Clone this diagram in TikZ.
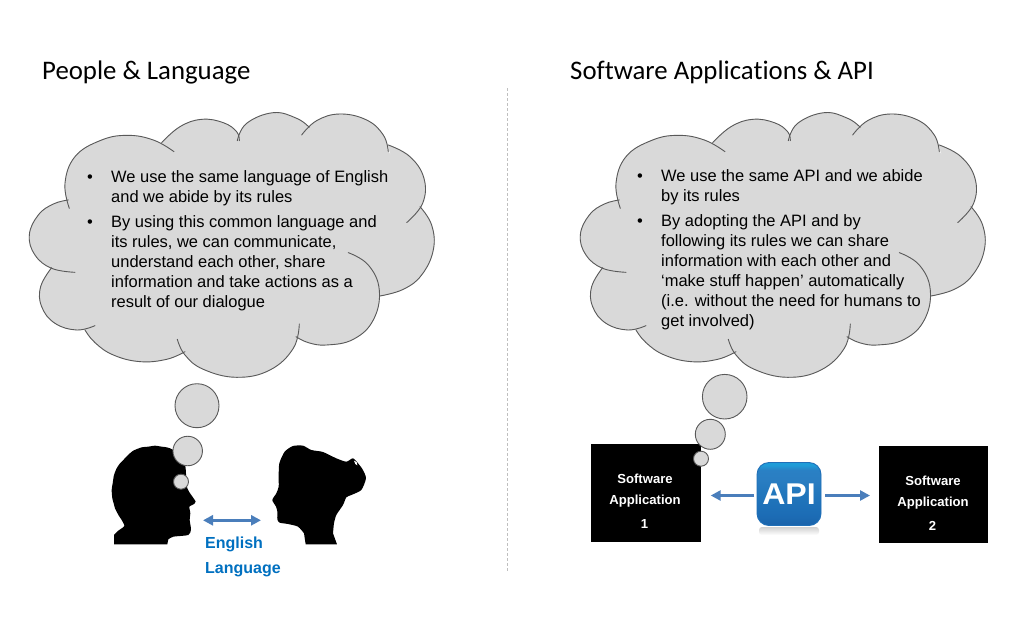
\documentclass[tikz,border=0pt]{standalone}
\usepackage{fontspec}
\setmainfont{Liberation Sans}
\newfontfamily\titlefont[Ligatures=NoCommon]{Carlito}
\definecolor{cloudfill}{HTML}{D9D9D9}
\definecolor{cloudline}{HTML}{595959}
\definecolor{arrowblue}{HTML}{4A7EBB}
\definecolor{langblue}{HTML}{0070C0}
\definecolor{dashgray}{HTML}{BFBFBF}
\definecolor{apiedge}{HTML}{1F6FB8}
\definecolor{apiA}{HTML}{1B64AA}
\definecolor{apiB}{HTML}{1B66AE}
\definecolor{apiC}{HTML}{1C6CB5}
\definecolor{apiD}{HTML}{2176BC}
\definecolor{apiE}{HTML}{2A7EC2}
\definecolor{apiF}{HTML}{2A80C4}
\definecolor{apiG}{HTML}{1E9CD8}
\usetikzlibrary{arrows.meta}
\pgfdeclareverticalshading{apishade}{100bp}{
  color(0bp)=(apiA);
  color(25bp)=(apiA);
  color(28bp)=(apiB);
  color(33bp)=(apiC);
  color(50bp)=(apiD);
  color(62bp)=(apiE);
  color(69bp)=(apiF);
  color(73bp)=(apiG);
  color(100bp)=(apiG)}
\tikzset{
  titletext/.style={anchor=west,inner sep=0pt,font=\titlefont\fontsize{26.8}{28}\selectfont},
  bodytext/.style={anchor=base west,inner sep=0pt,font=\fontsize{16.47}{18}\selectfont,text=black},
  apptext/.style={anchor=center,inner sep=0pt,text=white,font=\fontsize{13.1}{14}\selectfont\bfseries},
  langtext/.style={anchor=west,inner sep=0pt,text=langblue,font=\fontsize{16}{18}\selectfont\bfseries},
  bubble/.style={circle,draw=cloudline,fill=cloudfill,line width=0.9pt,inner sep=0pt,minimum size=#1},
  lobe/.style={draw=cloudline,line width=0.9pt,line cap=round},
  lobebody/.style={fill=cloudfill,draw=cloudfill,line width=0.6pt},
  blockarrow/.style={draw=arrowblue,line width=2.8pt,-{Triangle[length=10pt,width=10pt]}},
  sqbox/.style={fill=black,draw=none,inner sep=0pt},
}
\newcommand{\lobeA}{(148,325) (135,250) (165,170) (240,122) (320,106) (400,120) (462,155)}
\newcommand{\lobeB}{(425,128) (480,80) (545,58) (610,68) (650,95) (658,122)}
\newcommand{\lobeC}{(652,122) (680,70) (760,38) (830,55) (868,82)}
\newcommand{\lobeD}{(845,105) (890,62) (960,42) (1040,60) (1090,105) (1105,155)}
\newcommand{\lobeE}{(1105,135) (1170,170) (1212,235) (1208,310) (1160,368)}
\newcommand{\lobeF}{(1200,320) (1235,375) (1240,450) (1205,525) (1150,568) (1080,588)}
\newcommand{\lobeG}{(985,458) (1045,495) (1078,570) (1060,660) (1000,718) (920,735) (865,728) (828,710)}
\newcommand{\lobeH}{(838,672) (820,745) (750,810) (650,832) (550,808) (495,765) (472,718)}
\newcommand{\lobeI}{(495,755) (440,778) (360,785) (280,765) (225,728) (195,690)}
\newcommand{\lobeJ}{(225,677) (170,690) (105,670) (65,620) (62,560) (95,503)}
\newcommand{\lobeK}{(165,517) (95,505) (45,465) (28,405) (55,345) (100,312) (145,300)}
\newcommand{\lobefillx}[1]{\path[lobebody] plot[smooth,tension=0.7] coordinates {#1} -- cycle;}
\newcommand{\lobedrawx}[1]{\draw[lobe] plot[smooth,tension=0.7] coordinates {#1};}
\newcommand{\lobefill}[1]{\expandafter\lobefillx\expandafter{#1}}
\newcommand{\lobedraw}[1]{\expandafter\lobedrawx\expandafter{#1}}
\newcommand{\cloudAt}[2]{%
  \begin{scope}[shift={(#1,#2)},x=0.3333pt,y=-0.3333pt]
    \path[lobebody] (148,325) -- (425,128) -- (652,122) -- (868,82) -- (1105,155) -- (1200,320) -- (1080,588) -- (828,710) -- (472,760) -- (195,690) -- (95,503) -- cycle;
    \lobefill\lobeA \lobefill\lobeB \lobefill\lobeC \lobefill\lobeD \lobefill\lobeE \lobefill\lobeF
    \lobefill\lobeG \lobefill\lobeH \lobefill\lobeI \lobefill\lobeJ \lobefill\lobeK
    \lobedraw\lobeA \lobedraw\lobeB \lobedraw\lobeC \lobedraw\lobeD \lobedraw\lobeE \lobedraw\lobeF
    \lobedraw\lobeG \lobedraw\lobeH \lobedraw\lobeI \lobedraw\lobeJ \lobedraw\lobeK
  \end{scope}}
\begin{document}
\begin{tikzpicture}[x=1pt,y=-1pt]
\useasboundingbox[fill=white] (0,0) rectangle (1023,627);

\node[titletext] (t1) at (42,72) {People \& Language};
\node[titletext] (t2) at (570,72) {Software Applications \& API};

\coordinate (divtop) at (507.5,88);
\coordinate (divbot) at (507.5,571);
\draw[dashgray,line width=0.7pt,dash pattern=on 3pt off 2pt] (divtop) -- (divbot);

\cloudAt{20}{100}
\cloudAt{571}{100}

% left text
\node[bodytext] at (87,182) {•};
\node[bodytext] at (111,182) {We use the same language of English};
\node[bodytext] at (111,202) {and we abide by its rules};
\node[bodytext] at (87,227) {•};
\node[bodytext] at (111,227) {By using this common language and};
\node[bodytext] at (111,247) {its rules, we can communicate,};
\node[bodytext] at (111,267) {understand each other, share};
\node[bodytext] at (111,287) {information and take actions as a};
\node[bodytext] at (111,307) {result of our dialogue};

% right text
\node[bodytext] at (637,181) {•};
\node[bodytext] at (661,181) {We use the same API and we abide};
\node[bodytext] at (661,201) {by its rules};
\node[bodytext] at (637,226) {•};
\node[bodytext] at (661,226) {By adopting the API and by};
\node[bodytext] at (661,246) {following its rules we can share};
\node[bodytext] at (661,266) {information with each other and};
\node[bodytext] at (661,286) {‘make stuff happen’ automatically};
\node[bodytext] at (661,306) {(i.e. without the need for humans to};
\node[bodytext] at (661,326) {get involved)};

% man
\begin{scope}[shift={(105,440)},x=0.3333pt,y=-0.3333pt]
  \fill[black] plot[smooth,tension=0.4] coordinates {(27,285) (40,272) (58,258) (50,240) (42,228) (35,215) (30,205) (26,190) (22,175) (20,150) (23,130) (27,105) (35,85) (45,70) (55,60) (68,46) (85,32) (110,22) (130,20) (150,17) (170,20) (185,22) (205,30) (225,60) (240,75) (243,100) (244,135) (252,155) (272,185) (262,195) (253,200) (256,220) (254,240) (258,268) (250,285) (205,290) (190,298)} -- (187,313) -- (27,313) -- cycle;
\end{scope}
% woman
\begin{scope}[shift={(268,440)},x=0.3333pt,y=-0.3333pt]
  \fill[black] plot[smooth,tension=0.4] coordinates {(108,280) (90,260) (60,252) (35,248) (28,238) (28,215) (24,200) (13,180) (25,160) (32,140) (32,110) (34,70) (50,35) (75,18) (105,17) (130,30) (165,36) (205,55) (235,65) (255,55) (272,72) (285,90) (294,115) (280,150) (250,165) (235,172) (225,195) (205,225) (198,250) (195,280)} -- (207,313) -- (113,313) -- cycle;
  \fill[white] (258,62) -- (266,66) -- (268,76) -- (262,72) -- cycle;
\end{scope}

\node[bubble=44pt] (lb1) at (197,405.7) {};
\node[bubble=29.5pt] (lb2) at (187.7,451) {};
\node[bubble=15pt] (lb3) at (181,481.7) {};

\coordinate (dl) at (203,520.3);
\coordinate (dr) at (261,520.3);
\draw[draw=arrowblue,line width=2.8pt,{Triangle[length=10pt,width=10pt]}-{Triangle[length=10pt,width=10pt]}] (dl) -- (dr);

\node[langtext] (eng) at (205,544) {English};
\node[langtext] (lang) at (205,569.5) {Language};

% software boxes
\path[sqbox] (591,444) rectangle (701,542);
\path[sqbox] (879,446) rectangle (988,543);
\node[apptext] (a1) at (645,479) {Software};
\node[apptext] (a2) at (645,501) {Application};
\node[apptext] (a3) at (644.5,524) {1};
\node[apptext] (b1) at (933,481) {Software};
\node[apptext] (b2) at (933,503) {Application};
\node[apptext] (b3) at (932.5,526) {2};

\node[bubble=44.6pt] (rb1) at (724.7,396.7) {};
\node[bubble=30pt] (rb2) at (710.3,434.3) {};
\node[bubble=15pt] (rb3) at (701,458.7) {};

% API icon
\shade[top color=black!18,bottom color=white,rounded corners=3pt] (759,527) rectangle (819,535);
\shade[rounded corners=12pt,shading=apishade,draw=apiedge,line width=0.9pt] (757,462.5) rectangle (821,525.5);
\node[inner sep=0pt,text=white,xscale=1.07,font=\fontsize{30}{30}\selectfont\bfseries] (api) at (789,494) {API};

\coordinate (la) at (754,495.5);
\coordinate (lb) at (710.7,495.5);
\coordinate (ra) at (825,495.5);
\coordinate (rb) at (870,495.5);
\draw[blockarrow] (la) -- (lb);
\draw[blockarrow] (ra) -- (rb);
\end{tikzpicture}
\end{document}
